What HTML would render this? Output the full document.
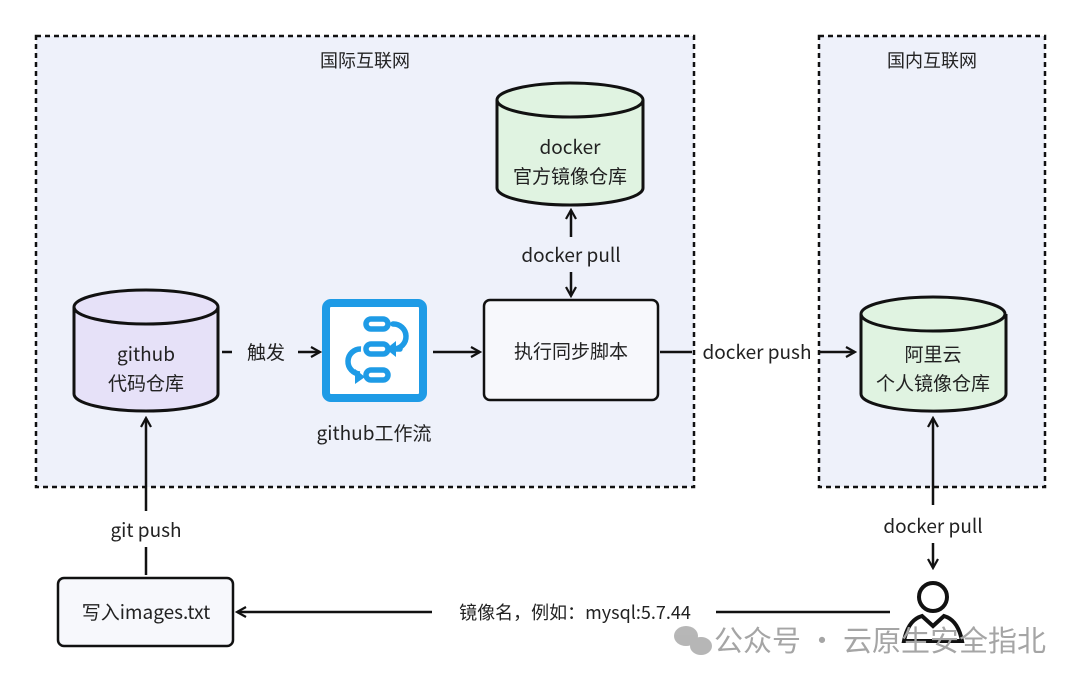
<!DOCTYPE html>
<html><head><meta charset="utf-8"><style>
body{margin:0;background:#fff}
text{font-family:"Noto Sans CJK SC","Liberation Sans",sans-serif;fill:#222;text-anchor:middle}
</style></head><body>
<svg width="1080" height="685" viewBox="0 0 1080 685" xmlns="http://www.w3.org/2000/svg">
<defs>
<marker id="a" markerWidth="12" markerHeight="12" refX="10" refY="6" orient="auto" markerUnits="userSpaceOnUse">
<path d="M1,1 L10,6 L1,11" fill="none" stroke="#111" stroke-width="2.2"/></marker>
</defs>
<rect x="36" y="36" width="658" height="451" fill="#eef1fa" stroke="#111" stroke-width="2.5" stroke-dasharray="5,4"/>
<rect x="819" y="36" width="226" height="451" fill="#eef1fa" stroke="#111" stroke-width="2.5" stroke-dasharray="5,4"/>
<text x="365" y="67" font-size="18">国际互联网</text>
<text x="932" y="67" font-size="18">国内互联网</text>

<path d="M74,307 L74,394 A72,17 0 0 0 218,394 L218,307" fill="#e6e1f8" stroke="#111" stroke-width="3"/>
<ellipse cx="146" cy="307" rx="72" ry="17" fill="#e6e1f8" stroke="#111" stroke-width="3"/>
<text x="146" y="361" font-size="19">github</text>
<text x="146" y="390" font-size="19">代码仓库</text>

<path d="M497,100 L497,188 A73,17 0 0 0 643,188 L643,100" fill="#e0f3e1" stroke="#111" stroke-width="3"/>
<ellipse cx="570" cy="100" rx="73" ry="17" fill="#e0f3e1" stroke="#111" stroke-width="3"/>
<text x="570" y="154" font-size="19">docker</text>
<text x="570" y="183" font-size="19">官方镜像仓库</text>

<path d="M861,314 L861,394 A72,17 0 0 0 1006,394 L1006,314" fill="#e0f3e1" stroke="#111" stroke-width="3"/>
<ellipse cx="933" cy="314" rx="72" ry="17" fill="#e0f3e1" stroke="#111" stroke-width="3"/>
<text x="933" y="361" font-size="19">阿里云</text>
<text x="933" y="390" font-size="19">个人镜像仓库</text>

<rect x="326" y="303" width="97" height="95" rx="5" fill="#fff" stroke="#1e9be6" stroke-width="8"/>
<g fill="none" stroke="#1e9be6" stroke-width="5.5">
<rect x="366" y="319" width="22" height="10" rx="5"/>
<rect x="366" y="344" width="22" height="10" rx="5"/>
<rect x="366" y="370" width="22" height="10" rx="5"/>
<path d="M393,324 A12,12 0 0 1 394,349 L400,349" stroke-linecap="round"/>
<path d="M361,349 A12,12 0 0 0 360,374"/>
</g>
<path d="M396,341 L396,357 L386,349Z" fill="#1e9be6"/>
<path d="M355,369 L365,377 L355,384Z" fill="#1e9be6"/>
<text x="374" y="440" font-size="19">github工作流</text>

<rect x="484" y="300" width="174" height="100" rx="6" fill="#f7f8fc" stroke="#111" stroke-width="2.5"/>
<text x="571" y="358" font-size="19">执行同步脚本</text>

<rect x="58" y="578" width="175" height="68" rx="6" fill="#f7f8fc" stroke="#111" stroke-width="2.5"/>
<text x="146" y="619" font-size="19">写入images.txt</text>

<g fill="none" stroke="#111" stroke-width="4">
<circle cx="933" cy="597" r="14"/>
<path d="M904,641 Q908,620 922,616 L933,626 L944,616 Q958,620 962,641 Z"/>
</g>

<line x1="222" y1="352" x2="232" y2="352" stroke="#111" stroke-width="2.5"/>
<text x="266" y="359" font-size="19">触发</text>
<line x1="298" y1="352" x2="320" y2="352" stroke="#111" stroke-width="2.5" marker-end="url(#a)"/>
<line x1="433" y1="352" x2="480" y2="352" stroke="#111" stroke-width="2.5" marker-end="url(#a)"/>
<line x1="660" y1="352" x2="692" y2="352" stroke="#111" stroke-width="2.5"/>
<text x="757" y="359" font-size="19">docker push</text>
<line x1="818" y1="352" x2="855" y2="352" stroke="#111" stroke-width="2.5" marker-end="url(#a)"/>

<line x1="571" y1="237" x2="571" y2="210" stroke="#111" stroke-width="2.5" marker-end="url(#a)"/>
<text x="571" y="262" font-size="19">docker pull</text>
<line x1="571" y1="272" x2="571" y2="296" stroke="#111" stroke-width="2.5" marker-end="url(#a)"/>

<line x1="933" y1="505" x2="933" y2="418" stroke="#111" stroke-width="2.5" marker-end="url(#a)"/>
<text x="933" y="533" font-size="19">docker pull</text>
<line x1="933" y1="543" x2="933" y2="568" stroke="#111" stroke-width="2.5" marker-end="url(#a)"/>

<line x1="890" y1="612" x2="716" y2="612" stroke="#111" stroke-width="2.5"/>
<text x="575" y="619" font-size="18">镜像名，例如：mysql:5.7.44</text>
<line x1="432" y1="612" x2="237" y2="612" stroke="#111" stroke-width="2.5" marker-end="url(#a)"/>

<line x1="146" y1="575" x2="146" y2="547" stroke="#111" stroke-width="2.5"/>
<text x="146" y="537" font-size="19">git push</text>
<line x1="146" y1="511" x2="146" y2="418" stroke="#111" stroke-width="2.5" marker-end="url(#a)"/>

<g fill="#aaa" opacity="0.85">
<ellipse cx="686" cy="636" rx="12" ry="10"/>
<ellipse cx="701" cy="646" rx="11" ry="9"/>
</g>
<text x="880" y="651" font-size="29" style="fill:#a5a5a5">公众号 · 云原生安全指北</text>
</svg>
</body></html>
